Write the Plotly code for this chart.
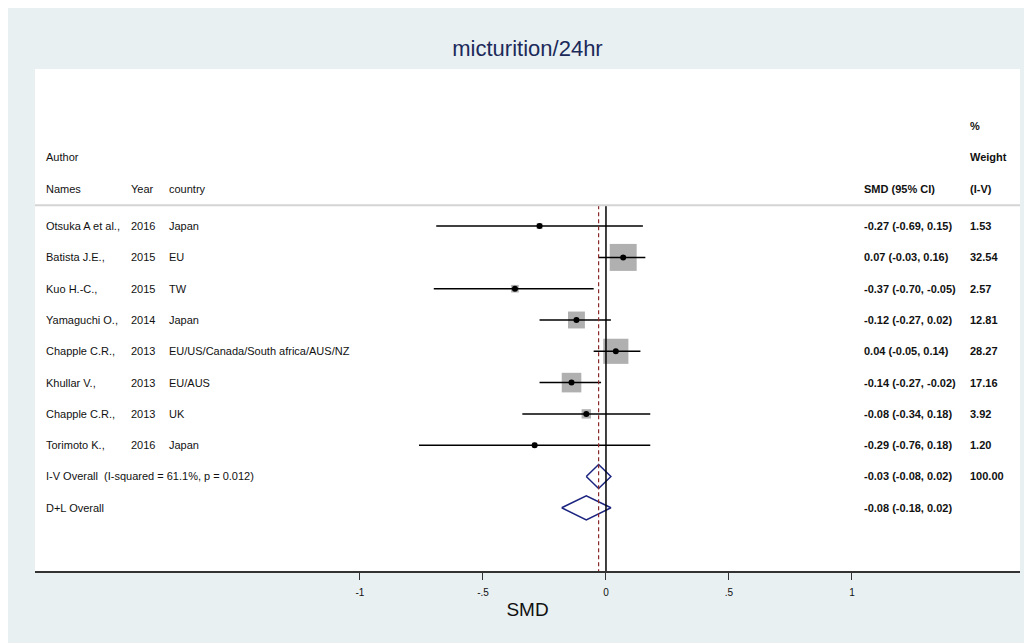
import plotly.graph_objects as go

# ---------------- data ----------------
authors = ["Otsuka A et al.,", "Batista J.E.,", "Kuo H.-C.,", "Yamaguchi O.,",
           "Chapple C.R.,", "Khullar V.,", "Chapple C.R.,", "Torimoto K.,"]
years = ["2016", "2015", "2015", "2014", "2013", "2013", "2013", "2016"]
countries = ["Japan", "EU", "TW", "Japan", "EU/US/Canada/South africa/AUS/NZ",
             "EU/AUS", "UK", "Japan"]
smd = [-0.27, 0.07, -0.37, -0.12, 0.04, -0.14, -0.08, -0.29]
ci_low = [-0.69, -0.03, -0.70, -0.27, -0.05, -0.27, -0.34, -0.76]
ci_high = [0.15, 0.16, -0.05, 0.02, 0.14, -0.02, 0.18, 0.18]
weights = [1.53, 32.54, 2.57, 12.81, 28.27, 17.16, 3.92, 1.20]

overall_labels = ["I-V Overall  (I-squared = 61.1%, p = 0.012)", "D+L Overall"]
overall_est = [-0.03, -0.08]
overall_low = [-0.08, -0.18]
overall_high = [0.02, 0.02]
overall_weight = ["100.00", ""]

tick_vals = [-1, -0.5, 0, 0.5, 1]
tick_text = ["-1", "-.5", "0", ".5", "1"]

# ---------------- styling ----------------
PANEL = "#e8f0f2"
FONT = "Arial, Liberation Sans, sans-serif"
TXT = 11
NAVY = "#1a237e"
MAROON = "#8b2a2a"
BOX = "#b0b0b0"

n = len(authors)
rows = list(range(1, n + 1))
orows = [n + 1, n + 2]
y_top, y_bot = -4.02, 12.02
sep_y = 0.33
col_name, col_year, col_cty = -2.285, -1.94, -1.785
col_smd, col_w = 1.04, 1.472

fig = go.Figure()

# CI lines
cx, cy = [], []
for lo, hi, r in zip(ci_low, ci_high, rows):
    cx += [lo, hi, None]
    cy += [r, r, None]

# weight boxes (side proportional to sqrt(weight))
fig.add_trace(go.Scatter(x=smd, y=rows, mode="markers",
                         marker=dict(symbol="square", color=BOX, opacity=1,
                                     size=[4.73 * w ** 0.5 for w in weights],
                                     line=dict(width=0)), hoverinfo="skip"))
fig.add_trace(go.Scatter(x=cx, y=cy, mode="lines",
                         line=dict(color="black", width=1.5), hoverinfo="skip"))
# point estimates
fig.add_trace(go.Scatter(x=smd, y=rows, mode="markers",
                         marker=dict(symbol="circle", color="black", size=6, opacity=1),
                         hoverinfo="skip"))

# overall diamonds
h = 0.385
for est, lo, hi, r in zip(overall_est, overall_low, overall_high, orows):
    fig.add_trace(go.Scatter(x=[lo, est, hi, est, lo], y=[r, r - h, r, r + h, r],
                             mode="lines", line=dict(color=NAVY, width=1.5),
                             hoverinfo="skip"))

# reference lines
fig.add_shape(type="line", xref="x", yref="y", x0=0, x1=0, y0=sep_y, y1=y_bot,
              line=dict(color="black", width=1.5))
fig.add_shape(type="line", xref="x", yref="y", x0=overall_est[0], x1=overall_est[0],
              y0=sep_y, y1=y_bot, line=dict(color=MAROON, width=1.2, dash="4px,3px"))
# header separator
fig.add_shape(type="line", xref="paper", yref="y", x0=0, x1=1, y0=sep_y, y1=sep_y,
              line=dict(color="#d4d4d4", width=2))

def txt(x, y, s, bold=False):
    fig.add_annotation(x=x, y=y, xref="x", yref="y", text=f"<b>{s}</b>" if bold else s,
                       showarrow=False, xanchor="left", yanchor="middle",
                       font=dict(family=FONT, size=TXT, color="#111111"))

# headers
txt(col_name, -1.2, "Author")
txt(col_name, -0.18, "Names")
txt(col_year, -0.18, "Year")
txt(col_cty, -0.18, "country")
txt(col_smd, -0.18, "SMD (95% CI)", True)
txt(col_w, -2.2, "%", True)
txt(col_w, -1.2, "Weight", True)
txt(col_w, -0.18, "(I-V)", True)

for i, r in enumerate(rows):
    txt(col_name, r, authors[i])
    txt(col_year, r, years[i])
    txt(col_cty, r, countries[i])
    txt(col_smd, r, f"{smd[i]:.2f} ({ci_low[i]:.2f}, {ci_high[i]:.2f})", True)
    txt(col_w, r, f"{weights[i]:.2f}", True)

for i, r in enumerate(orows):
    txt(col_name, r, overall_labels[i])
    txt(col_smd, r, f"{overall_est[i]:.2f} ({overall_low[i]:.2f}, {overall_high[i]:.2f})", True)
    if overall_weight[i]:
        txt(col_w, r, overall_weight[i], True)

fig.update_layout(
    width=1024, height=635,
    margin=dict(l=27, r=12, t=61, b=72),
    paper_bgcolor=PANEL, plot_bgcolor="white",
    showlegend=False,
    font=dict(family=FONT, color="#111111"),
    title=dict(text="micturition/24hr", x=0.5, xref="paper", xanchor="center",
               y=1 - 40 / 635, yref="container", yanchor="middle",
               font=dict(family=FONT, size=22, color="#1c2a5a")),
    xaxis=dict(range=[-2.321, 1.683], tickvals=tick_vals, ticktext=tick_text,
               showgrid=False, zeroline=False, showline=True, linecolor="#333333",
               linewidth=2, ticks="outside", ticklen=7, tickwidth=1.2,
               tickcolor="#333333", ticklabelstandoff=4,
               tickfont=dict(family=FONT, size=10, color="#111111"),
               title=dict(text="SMD", font=dict(family=FONT, size=19, color="#111111"),
                          standoff=6)),
    yaxis=dict(range=[y_bot, y_top], visible=False, showgrid=False, zeroline=False),
)

fig.write_html("out.html")
